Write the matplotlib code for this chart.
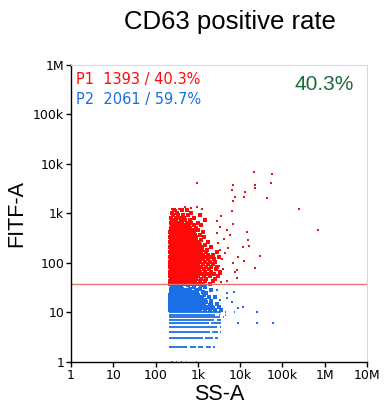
import matplotlib
matplotlib.use("Agg")
import matplotlib.pyplot as plt
import numpy as np

# ---- data ----
# P1 (above threshold): each row is one FITF-A level with the SS-A values seen on it
red_levels = [38, 42, 47, 53, 59, 66, 74, 83, 93, 104, 117, 131, 147, 165, 185, 207,
              232, 260, 292, 327, 367, 411, 461, 517, 580, 650, 730, 820, 920, 1030, 1150]
red_rows = [
    [222, 248, 290, 330, 385, 450, 520, 640, 790, 980, 1300, 1900],
    [215, 240, 270, 310, 350, 400, 470, 560, 680, 850, 1100, 1500, 2300],
    [230, 255, 285, 325, 370, 430, 500, 590, 720, 900, 1200, 1600, 2600],
    [218, 245, 275, 300, 345, 395, 460, 540, 650, 800, 1000, 1400, 1900, 3000],
    [225, 250, 280, 315, 360, 410, 480, 570, 690, 850, 1050, 1300, 1700, 2400],
    [215, 238, 265, 295, 335, 380, 440, 510, 600, 740, 920, 1150, 1500, 2100, 3300],
    [228, 252, 285, 320, 365, 420, 490, 580, 700, 870, 1080, 1400, 1800, 2700],
    [218, 243, 270, 305, 345, 395, 455, 530, 630, 770, 950, 1200, 1550, 2000, 2900],
    [225, 250, 280, 318, 360, 415, 480, 570, 690, 840, 1020, 1300, 1700, 2300],
    [215, 240, 268, 300, 340, 390, 450, 520, 620, 750, 920, 1150, 1450, 1900, 2600],
    [230, 255, 290, 330, 375, 430, 500, 590, 710, 870, 1080, 1350, 1750, 2400],
    [220, 245, 275, 310, 350, 400, 465, 545, 650, 790, 970, 1200, 1550, 2100, 3100],
    [228, 255, 285, 322, 368, 425, 495, 585, 700, 850, 1050, 1320, 1700, 2300],
    [216, 242, 272, 305, 348, 398, 460, 540, 640, 780, 960, 1200, 1600, 2800],
    [226, 252, 282, 320, 362, 418, 485, 570, 680, 830, 1020, 1280, 1650],
    [218, 246, 276, 312, 355, 408, 470, 555, 660, 800, 990, 1250, 2000],
    [230, 258, 290, 330, 378, 435, 505, 600, 720, 880, 1100, 1450],
    [220, 248, 280, 318, 362, 420, 490, 580, 700, 860, 1080, 1700],
    [228, 255, 290, 330, 380, 440, 515, 610, 740, 920, 1200],
    [218, 245, 278, 318, 365, 425, 500, 600, 730, 900, 1400],
    [232, 262, 300, 345, 400, 470, 560, 680, 850, 1100],
    [222, 250, 285, 330, 385, 455, 540, 660, 820, 1300],
    [235, 270, 310, 360, 425, 510, 620, 780, 1000],
    [226, 262, 305, 360, 430, 520, 650, 900],
    [240, 280, 330, 400, 490, 620, 800, 1200],
    [230, 275, 335, 420, 540, 700, 1000],
    [250, 310, 390, 500, 650, 1500],
    [235, 300, 380, 480, 800],
    [260, 340, 450, 600, 1100],
    [240, 320, 700],
    [280, 420, 560],
]
red_ss_extra = [955, 6760, 21400, 56200, 53700, 22400, 22900, 12900, 6300, 7600, 12600,
                6760, 42700, 245000, 692000, 6300, 6760, 22400, 29500, 15800, 12300,
                8300, 8300, 15100, 11700, 8900, 6800, 7600, 5750, 4900, 14500,
                3000, 3400, 3800, 4200, 3200, 3600, 4500, 2900, 3300, 4000, 5200,
                2800, 3600, 2600, 3500, 5000, 250, 300, 360, 700, 950, 1250, 500]
red_fitf_extra = [4070, 3720, 6760, 6170, 4070, 3720, 3310, 2750, 2950, 2190, 2190,
                  1740, 2090, 1200, 457, 1100, 603, 78, 135, 219, 107,
                  49, 71, 288, 209, 129, 98, 65, 363, 457, 417,
                  250, 180, 120, 300, 85, 60, 160, 400, 520, 75, 200,
                  700, 900, 45, 40, 42, 1200, 1150, 1250, 1300, 1320, 1250, 1350]

# P2 (below threshold): continuous part above 10
blue_levels = [11, 12, 13, 14, 15, 16, 17, 18, 19, 20, 22, 24, 26, 28, 30, 33, 36]
blue_rows = [
    [215, 235, 255, 280, 310, 340, 375, 420, 470, 530, 600, 690, 800, 950, 1150, 1450, 1900, 2600, 3500],
    [222, 245, 268, 295, 325, 360, 400, 445, 500, 570, 650, 750, 880, 1050, 1300, 1700, 2300],
    [216, 238, 262, 288, 318, 352, 392, 438, 490, 555, 640, 740, 870, 1040, 1280, 1600, 2200, 3100],
    [225, 248, 272, 300, 332, 368, 410, 460, 520, 590, 680, 790, 930, 1120, 1400, 1900],
    [218, 240, 265, 292, 322, 358, 398, 445, 500, 570, 655, 760, 900, 1100, 1350, 2000, 2800],
    [228, 250, 276, 305, 338, 376, 420, 472, 535, 610, 700, 820, 980, 1200, 1600],
    [220, 243, 268, 296, 328, 365, 408, 458, 520, 595, 690, 810, 1000, 1300, 2100],
    [230, 254, 280, 310, 345, 385, 432, 488, 555, 640, 750, 900, 1150, 1500],
    [222, 246, 272, 302, 336, 376, 424, 480, 550, 640, 760, 920, 1250],
    [232, 258, 286, 318, 355, 400, 452, 515, 600, 710, 860, 1100, 1800, 2500],
    [224, 250, 278, 312, 352, 400, 460, 540, 640, 780, 1000, 1400],
    [236, 264, 298, 338, 386, 445, 520, 620, 760, 980, 1600],
    [228, 258, 294, 340, 395, 470, 570, 720, 1300],
    [242, 275, 320, 375, 450, 560, 900, 2000],
    [235, 280, 340, 420, 650, 1100],
    [250, 310, 400, 800, 1500],
    [270, 360, 600, 1200],
]
blue_ss_extra = [4900, 6300, 8900, 11700, 25000, 60000, 25000, 8900, 7100, 4900, 3300, 2800]
blue_fitf_extra = [19, 16, 12, 13, 10, 6, 6, 6, 26, 24, 18, 28]

# P2 integer levels 1..10 show up as streaks: (level, ss start, ss end)
band_level = [10, 10, 10, 9, 9, 9, 8, 8, 7, 7, 7, 6, 6, 6, 5, 5, 4, 4, 4,
              3, 3, 3, 2, 2, 2, 2, 2, 1, 1, 1, 1, 1, 1]
band_start = [210, 4300, 7000, 210, 3200, 4500, 210, 3900, 210, 2800, 6600, 210, 2100, 8500,
              210, 3400, 210, 2200, 3300, 210, 1500, 2600, 210, 650, 1000, 1600, 2300,
              230, 300, 400, 520, 900, 1800]
band_end = [3600, 4600, 7400, 2600, 3400, 4700, 3300, 4100, 2400, 3500, 6900, 1800, 3600, 9200,
            2900, 3600, 1900, 3000, 3500, 1300, 2300, 3000, 560, 900, 1350, 2000, 2600,
            260, 330, 420, 540, 940, 1850]

threshold = 37
p1_count, p1_pct = 1393, 40.3
p2_count, p2_pct = 2061, 59.7

red_c = "#ff0a0a"
blue_c = "#1a6fe6"

red_ss = [s for row in red_rows for s in row]
red_fitf = [lv for lv, row in zip(red_levels, red_rows) for s in row]
blue_ss = [s for row in blue_rows for s in row]
blue_fitf = [lv for lv, row in zip(blue_levels, blue_rows) for s in row]

fig = plt.figure(figsize=(3.84, 4.18), dpi=100)
ax = fig.add_axes([0.1849, 0.1347, 0.7708, 0.7098])

ax.hlines(band_level, band_start, band_end, colors=blue_c, linewidth=1.3)
ax.scatter(blue_ss, blue_fitf, s=5.6, marker="s", color=blue_c, linewidths=0)
ax.scatter(blue_ss_extra, blue_fitf_extra, s=2.2, marker="s", color=blue_c, linewidths=0)
ax.scatter(red_ss, red_fitf, s=5.6, marker="s", color=red_c, linewidths=0)
ax.scatter(red_ss_extra, red_fitf_extra, s=2.2, marker="s", color="#e01818", linewidths=0)
ax.axhline(threshold, color="#e57373", linewidth=1)

ax.set_xscale("log")
ax.set_yscale("log")
ax.set_xlim(1, 1e7)
ax.set_ylim(1, 1e6)
ax.set_xticks([1, 10, 100, 1e3, 1e4, 1e5, 1e6, 1e7])
ax.set_xticklabels(["1", "10", "100", "1k", "10k", "100k", "1M", "10M"])
ax.set_yticks([1, 10, 100, 1e3, 1e4, 1e5, 1e6])
ax.set_yticklabels(["1", "10", "100", "1k", "10k", "100k", "1M"])
ax.minorticks_off()
ax.tick_params(direction="out", length=3.5, width=1, labelsize=9, pad=1.5)

for side in ["top", "right"]:
    ax.spines[side].set_color("#d8d8d8")
for side in ["left", "bottom"]:
    ax.spines[side].set_color("black")
    ax.spines[side].set_linewidth(1)

ax.set_xlabel("SS-A", fontsize=15.5, family="Liberation Sans", labelpad=2)
ax.set_ylabel("FITF-A", fontsize=15.5, family="Liberation Sans", labelpad=4)

fig.text(0.6, 0.948, "CD63 positive rate", fontsize=18.5, family="Liberation Sans",
         ha="center", va="center")
ax.text(0.018, 0.952, f"P1  {p1_count} / {p1_pct}%", transform=ax.transAxes,
        color=red_c, fontsize=10.5, va="center")
ax.text(0.018, 0.885, f"P2  {p2_count} / {p2_pct}%", transform=ax.transAxes,
        color=blue_c, fontsize=10.5, va="center")
ax.text(0.755, 0.935, f"{p1_pct}%", transform=ax.transAxes,
        color="#1e6b3a", fontsize=15, family="Liberation Sans", va="center")

fig.savefig("out.png", dpi=100)
